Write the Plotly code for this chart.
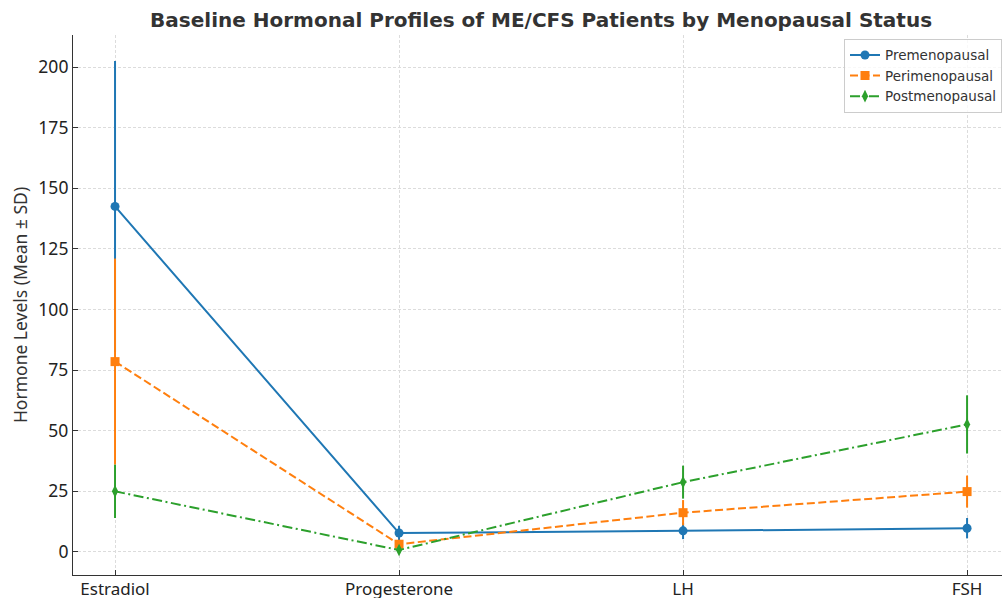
import plotly.graph_objects as go

categories = ["Estradiol", "Progesterone", "LH", "FSH"]
pre_mean = [142.5, 7.8, 8.7, 9.8]
pre_sd = [60.0, 3.0, 3.4, 4.2]
peri_mean = [78.5, 3.2, 16.2, 24.9]
peri_sd = [42.5, 1.5, 5.2, 6.6]
post_mean = [25.0, 0.8, 28.8, 52.6]
post_sd = [11.0, 1.0, 6.8, 12.0]

series = [
    ("Premenopausal", pre_mean, pre_sd, "#1f77b4", "solid", "circle", 9),
    ("Perimenopausal", peri_mean, peri_sd, "#ff7f0e", "8px,3.5px", "square", 9),
    ("Postmenopausal", post_mean, post_sd, "#2ca02c", "10px,3.5px,2px,3.5px", "diamond-tall", 9),
]

fig = go.Figure()
xs = list(range(len(categories)))
for name, m, sd, col, dash, sym, sz in series:
    fig.add_trace(go.Scatter(
        x=xs, y=m, name=name, mode="lines+markers",
        line=dict(color=col, width=2, dash=dash),
        marker=dict(color=col, symbol=sym, size=sz),
        error_y=dict(type="data", array=sd, visible=True, color=col, thickness=2, width=0),
    ))

font = "DejaVu Sans, sans-serif"
tfont = "Noto Sans, Open Sans, sans-serif"
fig.update_layout(
    width=1002, height=598,
    paper_bgcolor="white", plot_bgcolor="white",
    margin=dict(l=73, r=0, t=35, b=23, autoexpand=False),
    font=dict(family=font, color="#333333", size=15),
    title=dict(text="<b>Baseline Hormonal Profiles of ME/CFS Patients by Menopausal Status</b>",
               xref="container", x=0.54, xanchor="center", yref="container", y=0.967, yanchor="middle",
               font=dict(size=20, color="#333333", family=font)),
    showlegend=True,
    legend=dict(x=1.0, xanchor="right", y=0.993, yanchor="top",
                bgcolor="rgba(255,255,255,0.8)", bordercolor="#cccccc", borderwidth=1,
                font=dict(size=13.5, color="#333333", family=font), tracegroupgap=0, itemwidth=30),
)
grid = dict(showgrid=True, gridcolor="#dcdcdc", griddash="3px,2px", gridwidth=1)
fig.update_xaxes(
    range=[-0.148, 3.123], tickmode="array", tickvals=xs, ticktext=categories,
    showline=True, linecolor="#333333", linewidth=1.2, ticks="inside", ticklen=5,
    tickcolor="#333333", zeroline=False, tickfont=dict(size=17, color="#222222", family=tfont),
    ticklabelstandoff=-2, automargin=False, **grid,
)
fig.update_yaxes(
    range=[-9.5, 213.2], tickvals=[0, 25, 50, 75, 100, 125, 150, 175, 200],
    showline=True, linecolor="#333333", linewidth=1.2, ticks="inside", ticklen=5,
    tickcolor="#333333", zeroline=False, tickfont=dict(size=17.5, color="#222222", family=tfont),
    automargin=False, **grid,
    title=dict(text="Hormone Levels (Mean ± SD)", font=dict(size=17.5, color="#333333", family=tfont), standoff=6),
)
fig.write_html("out.html", config={"displayModeBar": False},
               post_script="document.body.style.margin='0';document.body.style.overflow='hidden';")
